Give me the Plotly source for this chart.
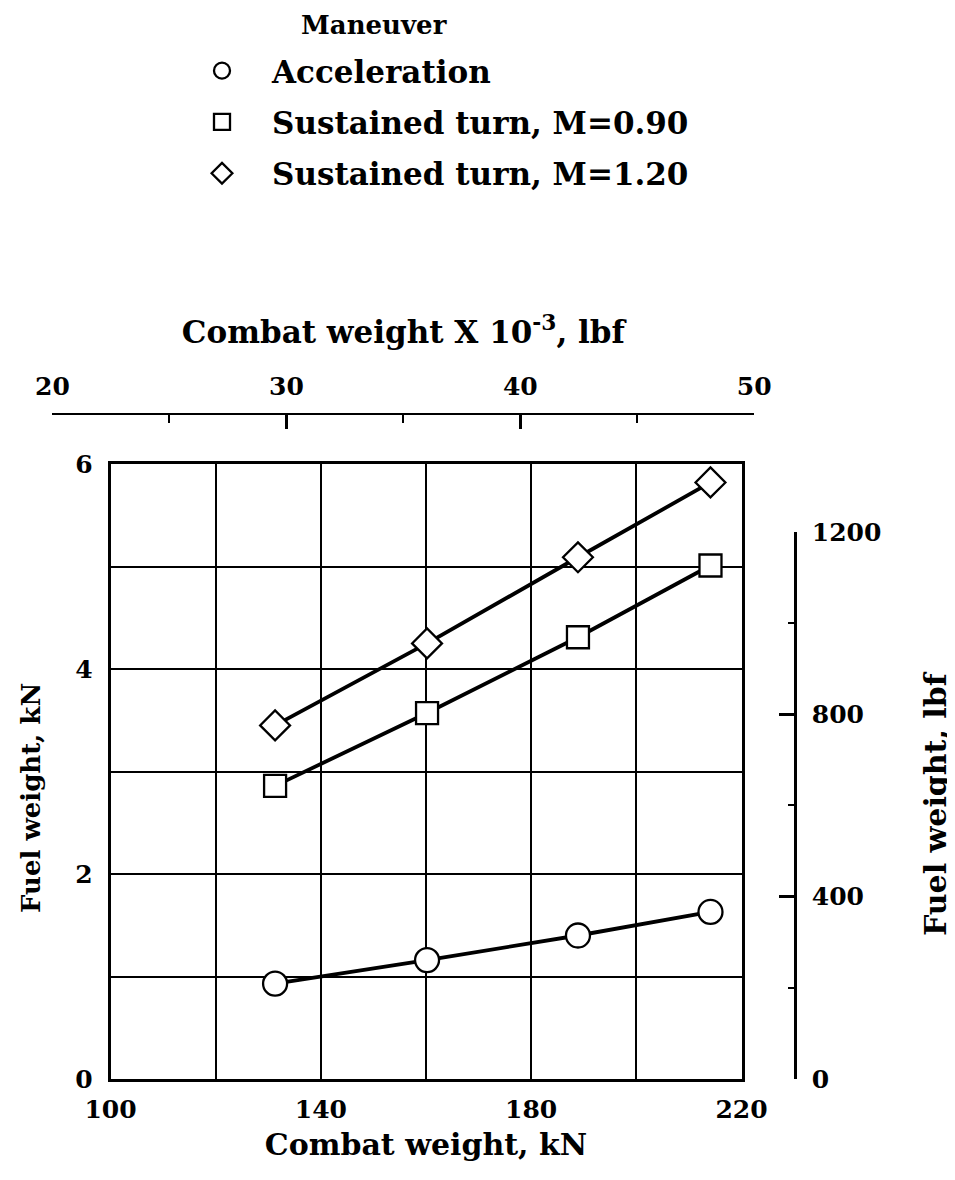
import plotly.graph_objects as go

# ---------------- data ----------------
combat_weight_kN = [131.3, 160.2, 188.9, 214.1]
accel_fuel_kN = [0.93, 1.16, 1.40, 1.63]
turn090_fuel_kN = [2.86, 3.57, 4.31, 5.01]
turn120_fuel_kN = [3.45, 4.25, 5.09, 5.82]

series_names = ["Acceleration", "Sustained turn, M=0.90", "Sustained turn, M=1.20"]
series_values = [accel_fuel_kN, turn090_fuel_kN, turn120_fuel_kN]
symbols = ["circle", "square", "diamond"]
marker_sizes = [24, 22, 23]

x_ticks_kN = [100, 140, 180, 220]
x_grid_kN = [120, 160, 200]
y_ticks_kN = [0, 2, 4, 6]
y_grid_kN = [1, 3, 5]
top_ticks_klbf = [20, 30, 40, 50]
top_minor_klbf = [25, 35, 45]
right_ticks_lbf = [0, 400, 800, 1200]
right_minor_lbf = [200, 600, 1000]

KN_PER_KLBF = 4.44822
LBF_PER_KN = 224.809

# ---------------- geometry (page pixels -> paper fractions) ----------------
OFF = 8                      # default page body margin
W, H = 955 - OFF, 1180 - OFF
ML, MR, MT, MB = 32, 32, 192, 52
PW, PH = W - ML - MR, H - MT - MB


def fx(px):
    return (px - OFF - ML) / PW


def fy(py):
    return (H - MB - (py - OFF)) / PH


x_range = [100, 220]
y_range = [0, 6]
xd = [fx(110.5), fx(741.5)]
yd = [fy(1079), fy(464)]

# top axis (k lbf) domain derived from unit conversion
t0 = (top_ticks_klbf[0] * KN_PER_KLBF - x_range[0]) / (x_range[1] - x_range[0])
t1 = (top_ticks_klbf[-1] * KN_PER_KLBF - x_range[0]) / (x_range[1] - x_range[0])
xd2 = [xd[0] + t0 * (xd[1] - xd[0]), xd[0] + t1 * (xd[1] - xd[0])]

# right axis (lbf) domain derived from unit conversion
r1 = (right_ticks_lbf[-1] / LBF_PER_KN) / (y_range[1] - y_range[0])
yd2 = [yd[0], yd[0] + r1 * (yd[1] - yd[0])]

FONT = "DejaVu Serif"

fig = go.Figure()

for name, vals, sym, ms in zip(series_names, series_values, symbols, marker_sizes):
    fig.add_trace(go.Scatter(
        x=combat_weight_kN, y=vals, mode="lines+markers", name=name,
        showlegend=False,
        line=dict(color="black", width=3.8),
        marker=dict(symbol=sym, size=ms, color="white",
                    line=dict(color="black", width=2.3)),
    ))

# legend entries (markers only)
for i, (name, sym, ms) in enumerate(zip(series_names, symbols, marker_sizes)):
    fig.add_trace(go.Scatter(
        x=[None], y=[None], mode="markers", name=name, legendgroup=f"g{i}",
        marker=dict(symbol=sym, size=ms, color="white",
                    line=dict(color="black", width=2.3)),
    ))

# carrier trace for the secondary (top / right) axes
fig.add_trace(go.Scatter(x=[], y=[], xaxis="x2", yaxis="y2",
                         showlegend=False, hoverinfo="skip"))

fig.update_layout(
    width=W, height=H,
    margin=dict(l=ML, r=MR, t=MT, b=MB, autoexpand=False),
    paper_bgcolor="white",
    plot_bgcolor="rgba(0,0,0,0)",
    font=dict(family=FONT, color="black", size=25, weight="bold"),
    xaxis=dict(
        domain=xd, range=x_range, tickvals=x_ticks_kN,
        ticks="", showline=True, mirror=True, linecolor="black", linewidth=2.5,
        showgrid=True, gridcolor="black", gridwidth=2, zeroline=False,
        minor=dict(tickvals=x_grid_kN, showgrid=True, gridcolor="black", gridwidth=2),
        tickfont=dict(size=25), ticklabelstandoff=6,
        title=dict(text="Combat weight, kN", font=dict(size=30), standoff=12),
    ),
    yaxis=dict(
        domain=yd, range=y_range, tickvals=y_ticks_kN,
        ticks="", showline=True, mirror=True, linecolor="black", linewidth=2.5,
        showgrid=True, gridcolor="black", gridwidth=1.5, zeroline=False,
        minor=dict(tickvals=y_grid_kN, showgrid=True, gridcolor="black", gridwidth=1.5),
        tickfont=dict(size=25), ticklabelstandoff=10,
    ),
    xaxis2=dict(
        domain=xd2, range=[top_ticks_klbf[0], top_ticks_klbf[-1]],
        anchor="free", position=fy(414), side="top",
        tickvals=top_ticks_klbf, ticks="inside", ticklen=14, tickwidth=3,
        tickcolor="black",
        minor=dict(tickvals=top_minor_klbf, ticks="inside", ticklen=8,
                   tickwidth=1.5, tickcolor="black"),
        showline=True, linecolor="black", linewidth=2, showgrid=False,
        zeroline=False, tickfont=dict(size=25), ticklabelstandoff=8,
        title=dict(text="Combat weight X 10<sup>-3</sup>, lbf",
                   font=dict(size=31), standoff=18),
    ),
    yaxis2=dict(
        domain=yd2, range=[right_ticks_lbf[0], right_ticks_lbf[-1]],
        anchor="free", position=fx(795), side="right",
        tickvals=right_ticks_lbf, ticks="inside", ticklen=15, tickwidth=3,
        tickcolor="black",
        minor=dict(tickvals=right_minor_lbf, ticks="inside", ticklen=6,
                   tickwidth=1.5, tickcolor="black"),
        showline=True, linecolor="black", linewidth=2.5, showgrid=False,
        zeroline=False, tickfont=dict(size=25), ticklabelstandoff=10,
    ),
    legend=dict(
        x=fx(172), y=fy(44), xanchor="left", yanchor="top",
        font=dict(size=31), itemwidth=90, tracegroupgap=8,
        bgcolor="rgba(0,0,0,0)", itemclick=False, itemdoubleclick=False,
    ),
    annotations=[
        dict(text="Maneuver", xref="paper", yref="paper",
             x=fx(374), y=fy(9), xanchor="center", yanchor="top",
             showarrow=False, borderpad=0, font=dict(size=26)),
        dict(text="Fuel weight, kN", xref="paper", yref="paper",
             x=fx(31), y=fy(798), xanchor="center", yanchor="middle",
             textangle=-90, showarrow=False, font=dict(size=26)),
        dict(text="Fuel weight, lbf", xref="paper", yref="paper",
             x=fx(935), y=fy(804), xanchor="center", yanchor="middle",
             textangle=-90, showarrow=False, font=dict(size=30)),
    ],
)

fig.write_html("out.html")
